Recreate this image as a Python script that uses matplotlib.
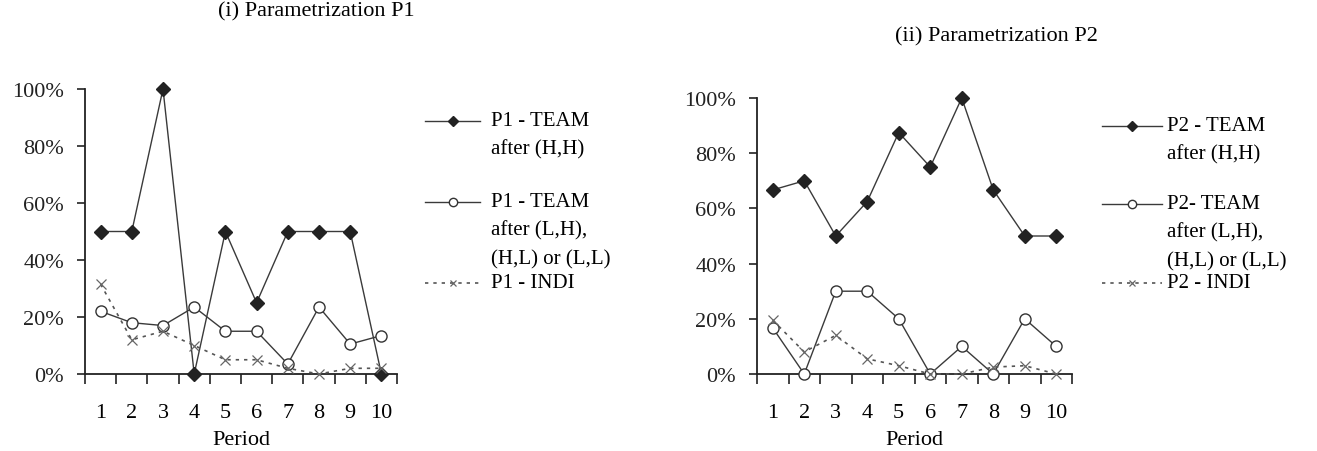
import numpy as np
import matplotlib.pyplot as plt
from matplotlib.lines import Line2D

plt.rcParams['font.family'] = ['Liberation Serif', 'DejaVu Serif']

periods = [1, 2, 3, 4, 5, 6, 7, 8, 9, 10]

# Parametrization P1 (fractions)
p1_team_hh = [0.50, 0.50, 1.00, 0.00, 0.50, 0.25, 0.50, 0.50, 0.50, 0.00]
p1_team_other = [0.22, 0.18, 0.17, 0.235, 0.15, 0.15, 0.035, 0.235, 0.105, 0.135]
p1_indi = [0.315, 0.12, 0.15, 0.10, 0.05, 0.05, 0.02, 0.00, 0.02, 0.02]

# Parametrization P2
p2_team_hh = [0.667, 0.70, 0.50, 0.625, 0.875, 0.75, 1.00, 0.667, 0.50, 0.50]
p2_team_other = [0.167, 0.00, 0.30, 0.30, 0.20, 0.00, 0.10, 0.00, 0.20, 0.10]
p2_indi = [0.195, 0.08, 0.14, 0.055, 0.03, 0.00, 0.00, 0.025, 0.03, 0.00]

yticks = [0, 0.2, 0.4, 0.6, 0.8, 1.0]
ytick_labels = ['0%', '20%', '40%', '60%', '80%', '100%']

p1_labels = ['P1 - TEAM\nafter (H,H)', 'P1 - TEAM\nafter (L,H),\n(H,L) or (L,L)', 'P1 - INDI']
p2_labels = ['P2 - TEAM\nafter (H,H)', 'P2- TEAM\nafter (L,H),\n(H,L) or (L,L)', 'P2 - INDI']

W, H = 1317, 452
LC = '#3a3a3a'
FS = 16      # tick labels
LFS = 15     # legend text

styles = [
    dict(color=LC, lw=1.0, ls='-', marker='D', ms=7, mfc='#222222', mec='#222222'),
    dict(color=LC, lw=1.0, ls='-', marker='o', ms=8, mfc='white', mec='#333333', mew=1.0),
    dict(color='#555555', lw=1.2, ls=(0, (2, 3)), marker='x', ms=7, mec='#666666', mew=0.9),
]

fig = plt.figure(figsize=(W / 100, H / 100), dpi=100)


def px_box(x0, x1, ytop, ybot):
    return [x0 / W, 1 - ybot / H, (x1 - x0) / W, (ybot - ytop) / H]


def draw_panel(ax, series):
    for vals, st in zip(series, styles):
        ax.plot(periods, vals, clip_on=False, zorder=3, **st)
    ax.set_xlim(0.5, 10.5)
    ax.set_ylim(0, 1)
    ax.spines['top'].set_visible(False)
    ax.spines['right'].set_visible(False)
    for s in ['left', 'bottom']:
        ax.spines[s].set_color('#222222')
        ax.spines[s].set_linewidth(1.3)
    ax.set_yticks(yticks)
    ax.set_yticklabels(ytick_labels, fontsize=FS)
    ax.tick_params(axis='y', length=6, width=1.2, pad=9, colors='#222222')
    ax.set_xticks(periods)
    ax.set_xticklabels([str(p) for p in periods], fontsize=FS)
    ax.set_xticks(np.arange(0.5, 11, 1), minor=True)
    ax.tick_params(axis='x', which='major', length=0, pad=21)
    ax.tick_params(axis='x', which='minor', length=7, width=1.2, color='#222222')
    ax.set_xlabel('Period', fontsize=FS, labelpad=6)


def draw_legend(x_line0, x_line1, x_text, y_rows, labels):
    for st, y, lab in zip(styles, y_rows, labels):
        ln = Line2D([x_line0 / W, (x_line0 + x_line1) / 2 / W, x_line1 / W],
                    [1 - y / H] * 3, transform=fig.transFigure, markevery=[1], **st)
        ln.set_markersize(st['ms'] - 2)
        fig.add_artist(ln)
        fig.text(x_text / W, 1 - (y - 10) / H, lab, fontsize=LFS, va='top',
                 ha='left', linespacing=1.66)


ax1 = fig.add_axes(px_box(85, 397, 90, 375))
draw_panel(ax1, [p1_team_hh, p1_team_other, p1_indi])
ax2 = fig.add_axes(px_box(757, 1072, 99, 375))
draw_panel(ax2, [p2_team_hh, p2_team_other, p2_indi])

draw_legend(425, 480, 491, [122, 203, 284], p1_labels)
draw_legend(1102, 1162, 1167, [127, 205, 284], p2_labels)

fig.text(218 / W, 1 - 12 / H, '(i) Parametrization P1', fontsize=16, va='center', ha='left')
fig.text(895 / W, 1 - 37 / H, '(ii) Parametrization P2', fontsize=16, va='center', ha='left')

fig.savefig('out.png', dpi=100)
